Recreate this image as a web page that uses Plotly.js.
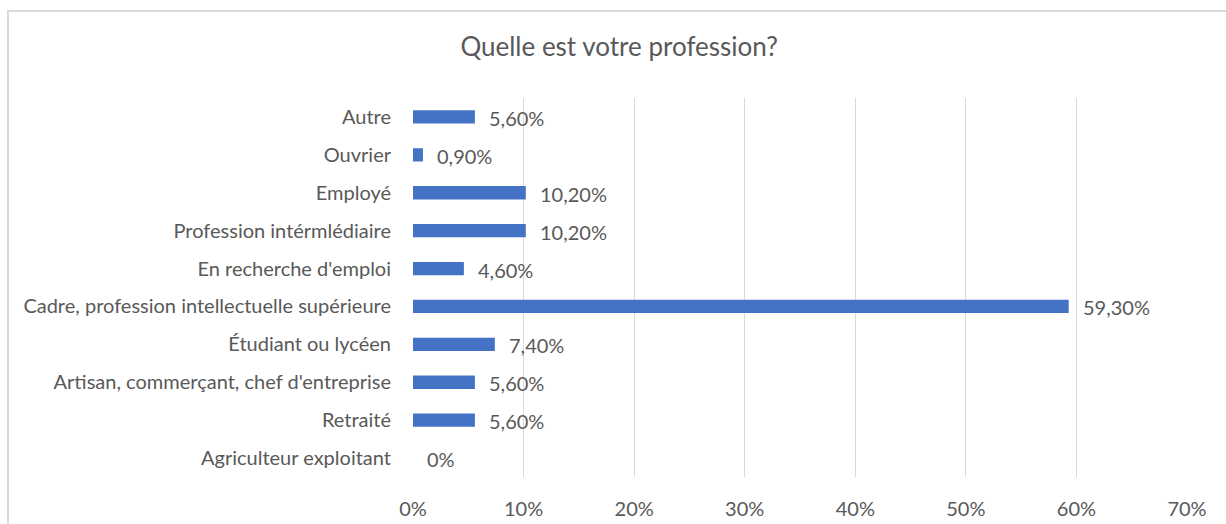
<!DOCTYPE html>
<html><head><meta charset="utf-8">
<script src="https://cdn.plot.ly/plotly-3.0.1.min.js"></script>
<style>
html,body{margin:0;padding:0;background:#fff;}
#wrap{position:relative;width:1226px;height:524px;overflow:hidden;}
#chart{position:absolute;left:0;top:0;width:1226px;height:524px;}
#frame{position:absolute;left:7px;top:10px;width:1240px;height:540px;border:2px solid #d9d9d9;box-sizing:border-box;pointer-events:none;}
</style></head>
<body>
<div id="wrap"><div id="chart"></div><div id="frame"></div></div>
<script>
const categories = ["Agriculteur exploitant","Retraité","Artisan, commerçant, chef d'entreprise","Étudiant ou lycéen","Cadre, profession intellectuelle supérieure","En recherche d'emploi","Profession intérmlédiaire","Employé","Ouvrier","Autre"];
const values = [0, 0.056, 0.056, 0.074, 0.593, 0.046, 0.102, 0.102, 0.009, 0.056];
const labels = ["0%","5,60%","5,60%","7,40%","59,30%","4,60%","10,20%","10,20%","0,90%","5,60%"];
const xTicks = [0,0.1,0.2,0.3,0.4,0.5,0.6,0.7];
const xTickText = ["0%","10%","20%","30%","40%","50%","60%","70%"];

const font = "Lato, 'Open Sans', sans-serif";
const grey = "#595959";
const fs = 20;

const trace = {
  type: "bar", orientation: "h",
  x: values, y: categories,
  marker: {color: "#4472C4"},
  width: 0.35,
  hoverinfo: "skip"
};

const annotations = values.map((v,i)=>({
  x: v, y: categories[i], xref:"x", yref:"y", yshift:-1,
  text: labels[i], showarrow:false, xanchor:"left", xshift: 12,
  font:{family:font,size:fs,color:grey}
}));

const layout = {
  width:1226, height:524,
  margin:{l:413,r:39,t:98,b:47},
  paper_bgcolor:"rgba(0,0,0,0)", plot_bgcolor:"rgba(0,0,0,0)",
  title:{text:"Quelle est votre profession?", x:0.505, xanchor:"center", y:0.91, yanchor:"middle",
         font:{family:font,size:26,color:grey}},
  xaxis:{range:[0,0.7], tickvals:xTicks, ticktext:xTickText, showgrid:true, gridcolor:"#d9d9d9", gridwidth:1,
         zeroline:false, showline:false, ticks:"outside", ticklen:14, tickcolor:"rgba(0,0,0,0)",
         tickfont:{family:font,size:fs,color:grey}, fixedrange:true},
  yaxis:{type:"category", categoryorder:"array", categoryarray:categories, range:[-0.5,9.5],
         showgrid:false, zeroline:false, showline:false, ticks:"outside", ticklen:17, tickcolor:"rgba(0,0,0,0)",
         tickfont:{family:font,size:fs,color:grey}, fixedrange:true},
  annotations: annotations,
  showlegend:false
};
Plotly.newPlot("chart",[trace],layout,{displayModeBar:false,staticPlot:true});
</script>
</body></html>
